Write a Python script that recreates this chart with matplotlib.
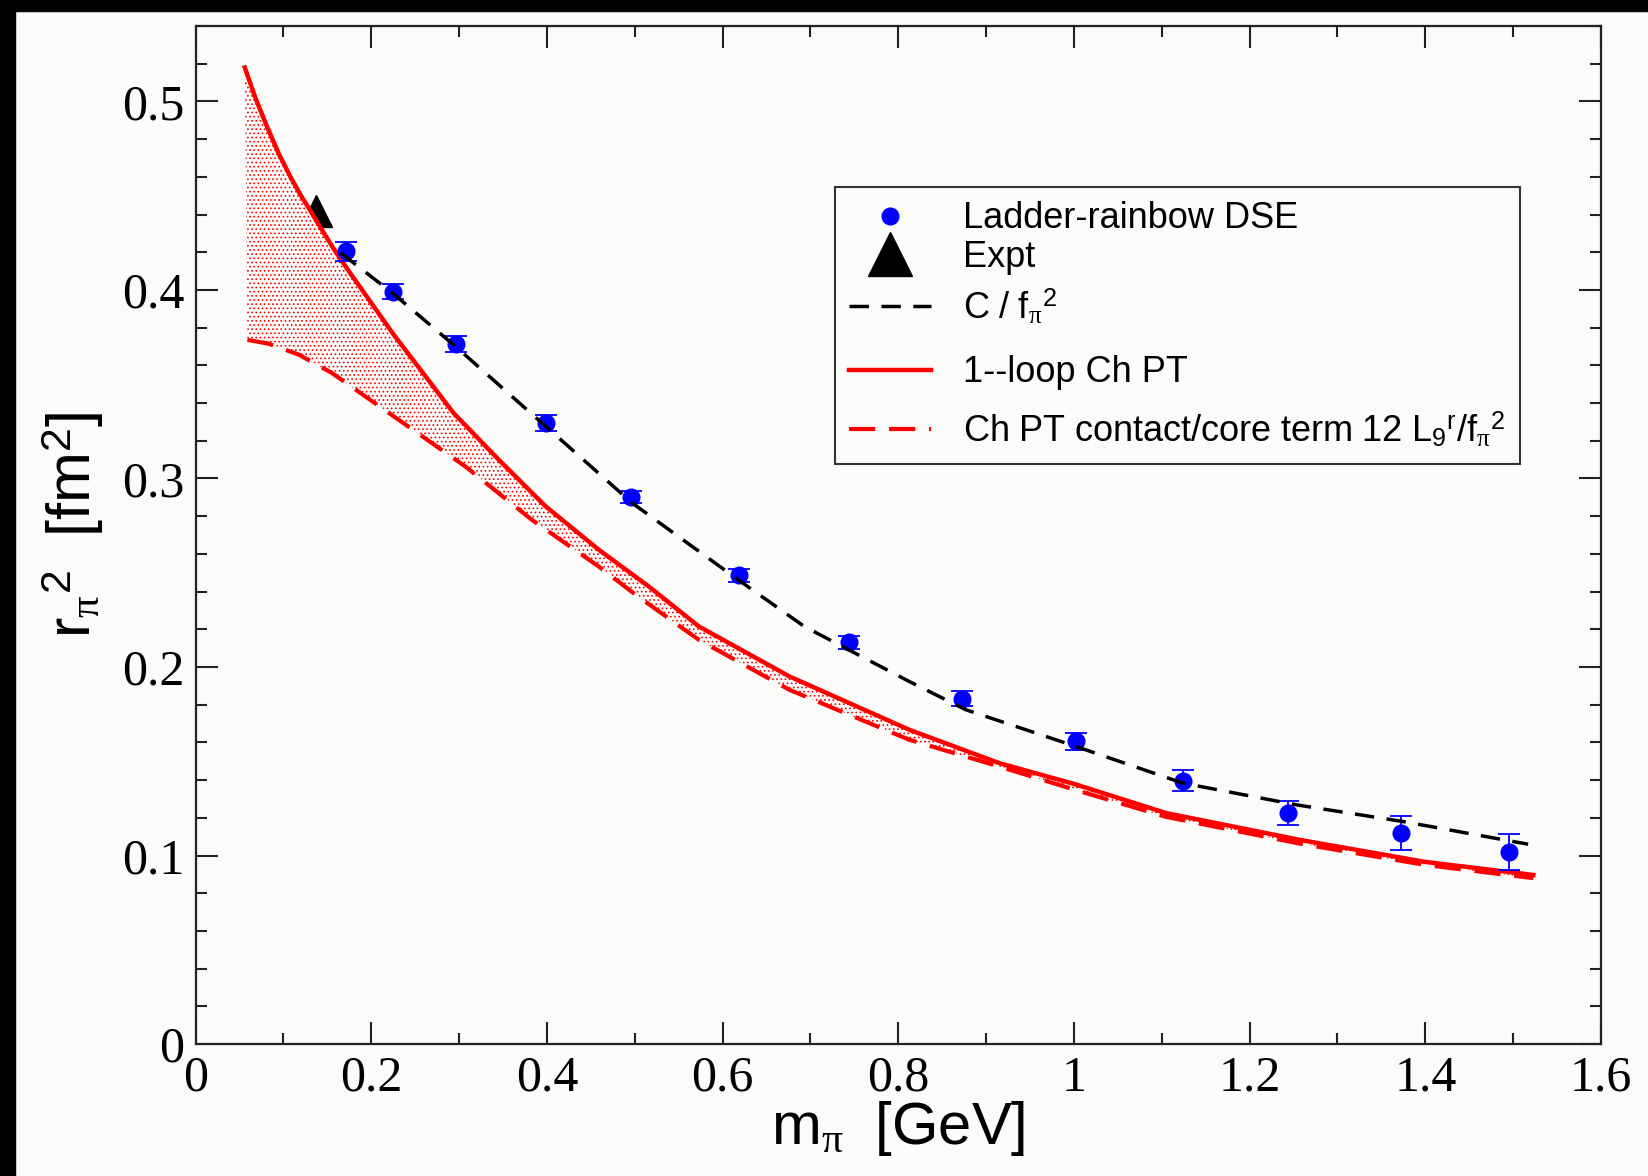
import numpy as np
import matplotlib
matplotlib.use("Agg")
import matplotlib.pyplot as plt
from matplotlib.patches import Rectangle
from matplotlib.lines import Line2D
from matplotlib.legend_handler import HandlerLine2D
from matplotlib.ticker import MultipleLocator, FixedLocator, FixedFormatter

plt.rcParams["font.family"] = ["Liberation Sans", "DejaVu Sans"]
plt.rcParams["mathtext.fontset"] = "custom"
plt.rcParams["mathtext.rm"] = "Liberation Sans"
plt.rcParams["mathtext.it"] = "Liberation Serif"
plt.rcParams["mathtext.bf"] = "Liberation Sans:bold"
plt.rcParams["hatch.linewidth"] = 0.7

# ladder-rainbow DSE points
dse_x = [0.1717, 0.2249, 0.296, 0.3985, 0.4954, 0.619, 0.744, 0.873, 1.0025, 1.124, 1.244, 1.372, 1.495]
dse_y = [0.4206, 0.3990, 0.3715, 0.3294, 0.2902, 0.2486, 0.213, 0.1831, 0.1605, 0.1396, 0.1225, 0.112, 0.102]
dse_err = [0.005, 0.004, 0.0043, 0.004, 0.0032, 0.0035, 0.0035, 0.004, 0.0045, 0.0055, 0.0062, 0.009, 0.0095]

# experiment
expt_x = [0.1366]
expt_y = [0.442]

# C / f_pi^2
cf_x = [0.165, 0.224, 0.296, 0.3985, 0.497, 0.62, 0.693, 0.744, 0.8125, 0.877, 1.0025, 1.124, 1.253, 1.375, 1.517]
cf_y = [0.4197, 0.3984, 0.370, 0.3277, 0.2870, 0.2455, 0.2215, 0.209, 0.1923, 0.1773, 0.1578, 0.1384, 0.1269, 0.118, 0.106]

# 1-loop ChPT
loop_x = [0.056, 0.068, 0.081, 0.095, 0.108, 0.120, 0.132, 0.145, 0.157, 0.1759, 0.2252, 0.2935, 0.345, 0.3985,
          0.459, 0.516, 0.573, 0.676, 0.8125, 0.915, 1.0, 1.105, 1.257, 1.40, 1.523]
loop_y = [0.518, 0.502, 0.487, 0.472, 0.460, 0.450, 0.441, 0.431, 0.422, 0.409, 0.3765, 0.3348, 0.310, 0.2852,
          0.2622, 0.2427, 0.2215, 0.195, 0.1667, 0.149, 0.138, 0.1225, 0.1083, 0.0966, 0.0897]

# ChPT contact/core term
core_x = [0.059, 0.083, 0.1174, 0.155, 0.231, 0.307, 0.383, 0.459, 0.501, 0.573, 0.676, 0.8125, 0.915,
          1.0, 1.105, 1.257, 1.40, 1.523]
core_y = [0.3735, 0.3715, 0.3657, 0.356, 0.3312, 0.3064, 0.278, 0.2533, 0.2383, 0.2144, 0.1879, 0.1614, 0.1472,
          0.135, 0.1205, 0.1063, 0.095, 0.088]

xtick_vals = [0, 0.2, 0.4, 0.6, 0.8, 1.0, 1.2, 1.4, 1.6]
xtick_labels = ["0", "0.2", "0.4", "0.6", "0.8", "1", "1.2", "1.4", "1.6"]
ytick_vals = [0, 0.1, 0.2, 0.3, 0.4, 0.5]
ytick_labels = ["0", "0.1", "0.2", "0.3", "0.4", "0.5"]


class TallHandler(HandlerLine2D):
    # legend rows with raised superscripts sit taller in the original
    def __init__(self, extra=0, **kw):
        super().__init__(**kw)
        self.extra = extra

    def legend_artist(self, legend, orig_handle, fontsize, handlebox):
        art = super().legend_artist(legend, orig_handle, fontsize, handlebox)
        handlebox.height += self.extra
        return art


bg = "#fbfbf9"
fig = plt.figure(figsize=(16.49, 11.76), dpi=100, facecolor=bg)
ax = fig.add_axes([0.1186, 0.1122, 0.8523, 0.8657])
ax.set_facecolor(bg)

# black screen edges
fig.patches.append(Rectangle((0, 0), 15 / 1649, 1, transform=fig.transFigure, color="black", zorder=10))
fig.patches.append(Rectangle((0, 1 - 11 / 1176), 1, 11 / 1176, transform=fig.transFigure, color="black", zorder=10))

ax.plot(expt_x, expt_y, marker="^", color="black", ms=23, ls="none", zorder=1)

# dotted band between 1-loop and core term
ax.fill(np.concatenate([loop_x, core_x[::-1]]), np.concatenate([loop_y, core_y[::-1]]),
        facecolor=bg, edgecolor="red", hatch="....", linewidth=0, zorder=2)

ax.plot(loop_x, loop_y, color="red", lw=3.2, zorder=3)
ax.plot(core_x, core_y, color="red", lw=3, dashes=(6.3, 3.3), zorder=3)
ax.errorbar(dse_x, dse_y, yerr=dse_err, fmt="o", color="blue", ms=12, capsize=8,
            elinewidth=1.3, capthick=1.3, zorder=4)
ax.plot(cf_x, cf_y, color="black", lw=2.5, dashes=(5.6, 3.6), zorder=5)

ax.set_xlim(0, 1.6)
ax.set_ylim(0, 0.54)
ax.xaxis.set_major_locator(FixedLocator(xtick_vals))
ax.xaxis.set_major_formatter(FixedFormatter(xtick_labels))
ax.xaxis.set_minor_locator(MultipleLocator(0.1))
ax.yaxis.set_major_locator(FixedLocator(ytick_vals))
ax.yaxis.set_major_formatter(FixedFormatter(ytick_labels))
ax.yaxis.set_minor_locator(MultipleLocator(0.02))
ax.tick_params(which="both", direction="in", top=True, right=True, width=1.5, color="#222222")
ax.tick_params(which="major", length=16, labelsize=36, pad=8)
ax.tick_params(which="minor", length=8)
for lab in ax.get_xticklabels() + ax.get_yticklabels():
    lab.set_fontfamily("Liberation Serif")
for sp in ax.spines.values():
    sp.set_linewidth(1.6)
    sp.set_color("#222222")

ax.set_xlabel(r"$\mathrm{m}_{\pi}\ \ \mathrm{[GeV]}$", fontsize=43)
ax.xaxis.set_label_coords(0.5, -0.054)
ax.set_ylabel(r"$\mathrm{r}_{\pi}{}^{\mathrm{2}}\ \ \mathrm{[fm}^{\mathrm{2}}\mathrm{]}$", fontsize=44)
ax.yaxis.set_label_coords(-0.064, 0.51)

h_dse = Line2D([], [], marker="o", color="blue", ls="none", ms=12)
h_expt = Line2D([], [], marker="^", color="black", ls="none", ms=32)
h_cf = Line2D([], [], color="black", lw=2.5, dashes=(5.6, 3.6))
h_loop = Line2D([], [], color="red", lw=3.2)
h_core = Line2D([], [], color="red", lw=3, dashes=(6.3, 3.3))
handles = [h_dse, h_expt, h_cf, h_loop, h_core]
labels = [
    "Ladder-rainbow DSE",
    "Expt",
    r"$\mathrm{C\ /\ f}_{\pi}{}^{\mathrm{2}}$",
    "1--loop Ch PT",
    r"$\mathrm{Ch\ PT\ contact/core\ term\ 12\ L}_{\mathrm{9}}{}^{\mathrm{r}}\mathrm{/f}_{\pi}{}^{\mathrm{2}}$",
]
hmap = {h_expt: TallHandler(0), h_cf: TallHandler(11), h_loop: TallHandler(19), h_core: TallHandler(16)}
leg = ax.legend(handles, labels, handler_map=hmap, loc="upper left", bbox_to_anchor=(0.455, 0.842),
                borderaxespad=0, fontsize=26, frameon=True, fancybox=False, edgecolor="#333333",
                framealpha=1, facecolor=bg, handlelength=2.25, handletextpad=0.9, labelspacing=0.1,
                borderpad=0.4)
leg.get_frame().set_linewidth(1.5)

fig.savefig("out.png", dpi=100, facecolor=bg)
